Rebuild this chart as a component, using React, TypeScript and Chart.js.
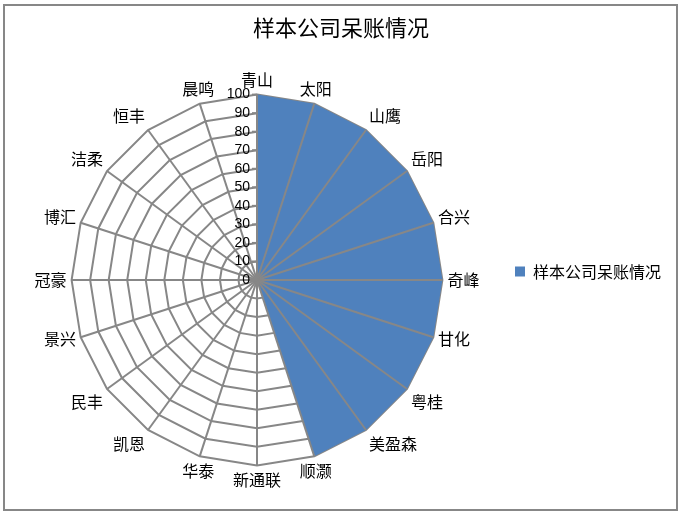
import React, { useEffect, useRef } from "react";
import { Chart, registerables } from "chart.js";

Chart.register(...registerables);

const categories = ["青山", "太阳", "山鹰", "岳阳", "合兴", "奇峰", "甘化", "粤桂", "美盈森", "顺灏", "新通联", "华泰", "凯恩", "民丰", "景兴", "冠豪", "博汇", "洁柔", "恒丰", "晨鸣"];
const values = [100, 100, 100, 100, 100, 100, 100, 100, 100, 100, 0, 0, 0, 0, 0, 0, 0, 0, 0, 0];
const tickValues = [0, 10, 20, 30, 40, 50, 60, 70, 80, 90, 100];
const seriesName = "样本公司呆账情况";
const chartTitle = "样本公司呆账情况";

const GRID = "#878787";
const FILL = "#4F81BD";
const CJK = '"Noto Sans CJK SC", "Noto Sans", sans-serif';
const LABEL_SIZE = 16;

// Excel-like placement of category labels: centred near the top/bottom and sides
const labelPlacePlugin = {
  id: "labelPlace",
  beforeDraw(chart: any) {
    const s = chart.scales.r;
    const items = s && s._pointLabelItems;
    if (!items) return;
    const lh = LABEL_SIZE * 1.2;
    for (let i = 0; i < items.length; i++) {
      const a = s.getIndexAngle(i);
      const p = s.getPointPosition(i, s.drawingArea + 5);
      const sin = Math.abs(Math.sin(a));
      const c = Math.cos(a);
      const cos = Math.abs(c);
      if (sin > 1e-6 && sin < 0.35) {
        items[i].x = p.x;
        items[i].textAlign = "center";
      } else if (cos > 1e-6 && cos < 0.35) {
        items[i].y = p.y - lh / 2 - (c > 0 ? 4 : 0);
      }
    }
  },
};

const overlayPlugin = {
  id: "overlay",
  afterDatasetsDraw(chart: any) {
    const s = chart.scales.r;
    const ctx = chart.ctx;
    const max = tickValues[tickValues.length - 1];
    ctx.save();
    ctx.strokeStyle = GRID;
    ctx.lineWidth = 2;
    for (let i = 0; i < categories.length; i++) {
      const p = s.getPointPosition(i, s.getDistanceFromCenterForValue(max));
      ctx.beginPath();
      ctx.moveTo(s.xCenter, s.yCenter);
      ctx.lineTo(p.x, p.y);
      ctx.stroke();
    }
    ctx.fillStyle = "#000";
    ctx.font = '14px "Liberation Sans", sans-serif';
    ctx.textAlign = "right";
    ctx.textBaseline = "middle";
    for (const v of tickValues) {
      const p = s.getPointPosition(0, s.getDistanceFromCenterForValue(v));
      ctx.beginPath();
      ctx.moveTo(p.x - 5, p.y);
      ctx.lineTo(p.x, p.y);
      ctx.stroke();
      ctx.fillText(String(v), p.x - 7, p.y);
    }
    ctx.restore();
  },
};

export default function App() {
  const ref = useRef<HTMLCanvasElement>(null);
  useEffect(() => {
    if (!ref.current) return;
    const chart = new Chart(ref.current, {
      type: "radar",
      data: {
        labels: categories,
        datasets: [
          {
            label: seriesName,
            data: values,
            backgroundColor: FILL,
            borderColor: FILL,
            borderWidth: 0,
            fill: true,
            pointRadius: 0,
            pointHoverRadius: 0,
          },
        ],
      },
      options: {
        responsive: false,
        animation: false,
        layout: { padding: { left: 11, right: 13, top: 11, bottom: 31 } },
        plugins: {
          title: {
            display: true,
            text: chartTitle,
            color: "#000",
            font: { family: CJK, size: 22, weight: "normal" },
            padding: { top: 3, bottom: 30 },
          },
          legend: {
            position: "right",
            title: { display: true, text: " ", font: { size: 10 }, padding: { top: 30, bottom: 0 } },
            labels: {
              boxWidth: 10,
              boxHeight: 10,
              color: "#000",
              font: { family: CJK, size: 16 },
            },
          },
          tooltip: { enabled: false },
        },
        scales: {
          r: {
            min: 0,
            max: 100,
            ticks: { stepSize: 10, display: false },
            grid: { color: GRID, lineWidth: 2 },
            angleLines: { display: false },
            pointLabels: {
              color: "#000",
              font: { family: CJK, size: LABEL_SIZE },
              padding: 5,
            },
          },
        },
      },
      plugins: [labelPlacePlugin, overlayPlugin],
    });
    return () => chart.destroy();
  }, []);
  return (
    <div style={{ position: "absolute", left: 0, top: 0, width: 684, height: 521, background: "#fff" }}>
      <canvas ref={ref} width={684} height={521} style={{ position: "absolute", left: 0, top: 0 }} />
      <div
        style={{
          position: "absolute",
          left: 3,
          top: 4,
          width: 675,
          height: 507,
          boxSizing: "border-box",
          border: `2px solid ${GRID}`,
          pointerEvents: "none",
        }}
      />
    </div>
  );
}
